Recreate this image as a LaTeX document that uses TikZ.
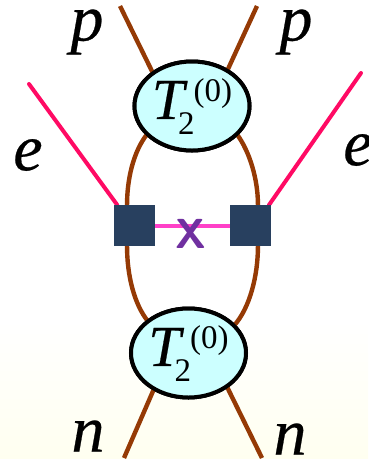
\documentclass[tikz,border=0pt]{standalone}
\usepackage{fontspec}
\setmainfont[ItalicFeatures={FakeBold=0.4}]{Liberation Serif}
\usetikzlibrary{shapes.geometric}
\definecolor{brownline}{HTML}{953A05}
\definecolor{pinkline}{HTML}{FF0A64}
\definecolor{magline}{HTML}{FF40C8}
\definecolor{navybox}{HTML}{28405F}
\definecolor{cyanfill}{HTML}{CCFFFF}
\definecolor{crossc}{HTML}{7030A0}
\definecolor{bgbottom}{HTML}{FFFFF0}
\tikzset{
  vertex/.style={ellipse,draw=black,line width=4pt,fill=cyanfill,minimum width=115pt,minimum height=89pt,inner sep=0pt,outer sep=0pt},
  sq/.style={rectangle,fill=navybox,minimum size=41pt,inner sep=0pt,outer sep=0pt},
  quark/.style={draw=brownline,line width=4.4pt},
  lepton/.style={draw=pinkline,line width=4pt,line cap=round},
  lab/.style={font=\fontsize{66}{66}\selectfont\itshape,inner sep=0pt},
  crossmark/.style={font=\fontsize{42}{42}\selectfont\sffamily\bfseries,text=crossc,inner sep=0pt},
}
\newcommand{\Tlabel}{{\fontsize{58}{58}\selectfont\itshape T}\raisebox{-16pt}{\hspace{-6pt}\fontsize{33}{33}\selectfont 2}\raisebox{17pt}{\hspace{-1pt}\fontsize{33}{33}\selectfont (0)}}
\begin{document}
\begin{tikzpicture}[x=1pt,y=-1pt]
\useasboundingbox (0,0) rectangle (368,459);
\fill[white] (0,0) rectangle (368,459);
\shade[top color=white,bottom color=bgbottom] (0,320) rectangle (368,459);
\coordinate (pl) at (120,6);
\coordinate (pr) at (257,6);
\coordinate (nl) at (124,458);
\coordinate (nr) at (262,458);
\coordinate (el) at (29,84);
\coordinate (er) at (361,73);
\node[sq] (sl) at (134.5,225.5) {};
\node[sq] (sr) at (250.5,225.5) {};
\node[vertex] (tv) at (192,106) {};
\node[vertex] (bv) at (188.5,353) {};
\draw[draw=magline,line width=4pt] (sl) -- (sr);
\draw[quark] (pl) -- (tv.140);
\draw[quark] (pr) -- (tv.45);
\draw[quark] (nl) -- (bv.226);
\draw[quark] (nr) -- (bv.319);
\draw[quark] (tv.212) .. controls (133,152) and (127,180) .. (sl.110);
\draw[quark] (tv.328) .. controls (250,152) and (258,180) .. (sr.70);
\draw[quark] (sl.250) .. controls (127,275) and (134,304) .. (bv.142);
\draw[quark] (sr.290) .. controls (258,275) and (250,308) .. (bv.31);
\draw[lepton] (el) -- (sl.130);
\draw[lepton] (er) -- (sr.48);
\node[sq] at (sl) {};
\node[sq] at (sr) {};
\node[crossmark] (x) at (190.5,234) {X};
\node[vertex] at (tv) {};
\node[vertex] at (bv) {};
\node[inner sep=0pt] (tl) at (192,107) {\Tlabel};
\node[inner sep=0pt] (bl) at (188.5,354) {\Tlabel};
\node[lab] (p1) at (87,32) {p};
\node[lab] (p2) at (296,32) {p};
\node[lab] (e1) at (28,155) {e};
\node[lab] (e2) at (358,150) {e};
\node[lab] (n1) at (88,436) {n};
\node[lab] (n2) at (290,439) {n};
\end{tikzpicture}
\end{document}
